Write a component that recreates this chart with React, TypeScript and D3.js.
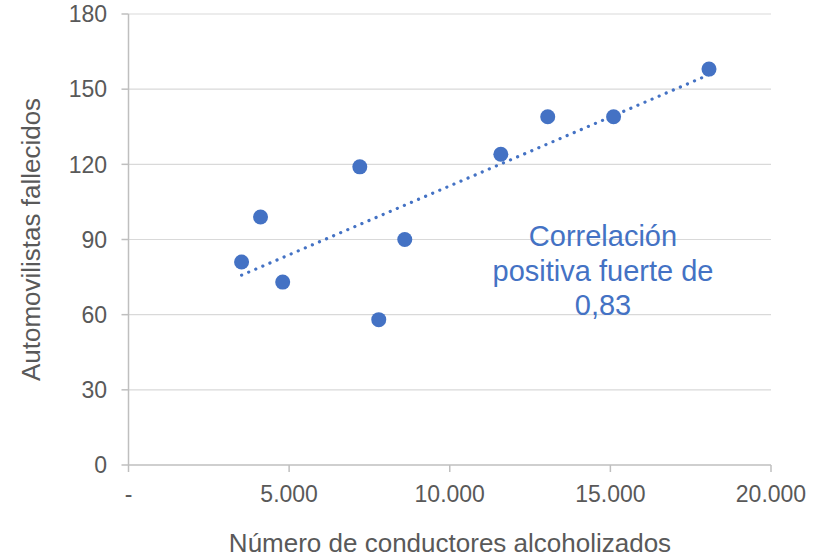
import React, { useEffect, useRef } from 'react';
import * as d3 from 'd3';

// conductores alcoholizados (x) vs automovilistas fallecidos (y)
const conductores = [3520, 4110, 4800, 7200, 7790, 8600, 11590, 13050, 15100, 18070];
const fallecidos = [81, 99, 73, 119, 58, 90, 124, 139, 139, 158];

const xTicks = [0, 5000, 10000, 15000, 20000];
const yTicks = [0, 30, 60, 90, 120, 150, 180];
const noteLines = ['Correlación', 'positiva fuerte de', '0,83'];

const BLUE = '#4472C4';
const GREY_TEXT = '#595959';
const FONT = '"Liberation Sans", Arial, sans-serif';

const fmtX = (v: number) => (v === 0 ? '-' : d3.format(',')(v).replace(/,/g, '.'));

const App: React.FC = () => {
  const ref = useRef<SVGSVGElement | null>(null);
  const width = 823, height = 559;

  useEffect(() => {
    if (!ref.current) return;
    const svg = d3.select(ref.current);
    svg.selectAll('*').remove();

    const x = d3.scaleLinear().domain([0, 20000]).range([128.5, 771]);
    const y = d3.scaleLinear().domain([0, 180]).range([465, 14]);

    // horizontal gridlines
    svg.append('g')
      .selectAll('line')
      .data(yTicks.filter(t => t > 0))
      .enter().append('line')
      .attr('x1', x(0)).attr('x2', x(20000))
      .attr('y1', d => y(d)).attr('y2', d => y(d))
      .attr('stroke', '#d9d9d9').attr('stroke-width', 1.2);

    // axes
    const axes = svg.append('g').attr('stroke', '#bfbfbf').attr('stroke-width', 1.5);
    axes.append('line').attr('x1', x(0)).attr('x2', x(0)).attr('y1', y(180)).attr('y2', y(0));
    axes.append('line').attr('x1', x(0)).attr('x2', x(20000)).attr('y1', y(0)).attr('y2', y(0));
    axes.selectAll('.yt').data(yTicks).enter().append('line')
      .attr('x1', x(0) - 7).attr('x2', x(0)).attr('y1', d => y(d)).attr('y2', d => y(d));
    axes.selectAll('.xt').data(xTicks).enter().append('line')
      .attr('x1', d => x(d)).attr('x2', d => x(d)).attr('y1', y(0)).attr('y2', y(0) + 7);

    // tick labels
    svg.append('g').selectAll('text').data(yTicks).enter().append('text')
      .attr('x', 107).attr('y', d => y(d)).attr('dy', '0.36em')
      .attr('text-anchor', 'end')
      .style('font-family', FONT).style('font-size', '23px').attr('fill', GREY_TEXT)
      .text(d => d);
    svg.append('g').selectAll('text').data(xTicks).enter().append('text')
      .attr('x', d => x(d)).attr('y', 502)
      .attr('text-anchor', 'middle')
      .style('font-family', FONT).style('font-size', '23px').attr('fill', GREY_TEXT)
      .text(d => fmtX(d));

    // axis titles
    svg.append('text')
      .attr('x', 450).attr('y', 552)
      .attr('text-anchor', 'middle')
      .style('font-family', FONT).style('font-size', '26px').attr('fill', GREY_TEXT)
      .text('Número de conductores alcoholizados');
    svg.append('text')
      .attr('transform', `translate(40, ${(y(0) + y(180)) / 2}) rotate(-90)`)
      .attr('text-anchor', 'middle')
      .style('font-family', FONT).style('font-size', '26px').attr('fill', GREY_TEXT)
      .text('Automovilistas fallecidos');

    // linear trendline (least squares)
    const mx = d3.mean(conductores) as number;
    const my = d3.mean(fallecidos) as number;
    let sxy = 0, sxx = 0;
    conductores.forEach((cx, i) => {
      sxy += (cx - mx) * (fallecidos[i] - my);
      sxx += (cx - mx) * (cx - mx);
    });
    const slope = sxy / sxx;
    const icpt = my - slope * mx;
    const [xmin, xmax] = d3.extent(conductores) as [number, number];
    const trend = [xmin, xmax].map(v => [v, icpt + slope * v] as [number, number]);
    svg.append('path')
      .attr('d', d3.line().x(d => x(d[0])).y(d => y(d[1]))(trend) || '')
      .attr('fill', 'none')
      .attr('stroke', BLUE)
      .attr('stroke-width', 3.2)
      .attr('stroke-linecap', 'round')
      .attr('stroke-dasharray', '0.1 7.6');

    // points
    svg.append('g').selectAll('circle')
      .data(conductores.map((c, i) => [c, fallecidos[i]]))
      .enter().append('circle')
      .attr('cx', d => x(d[0])).attr('cy', d => y(d[1]))
      .attr('r', 7.5)
      .attr('fill', BLUE);

    // annotation
    svg.append('g').selectAll('text').data(noteLines).enter().append('text')
      .attr('x', 603).attr('y', (d, i) => 246 + i * 34.7)
      .attr('text-anchor', 'middle')
      .style('font-family', FONT).style('font-size', '29px').attr('fill', BLUE)
      .text(d => d);
  }, []);

  return (
    <div style={{ position: 'absolute', left: 0, top: 0 }}>
      <svg ref={ref} width={width} height={height} style={{ display: 'block', background: '#fff' }} />
    </div>
  );
};

export default App;
